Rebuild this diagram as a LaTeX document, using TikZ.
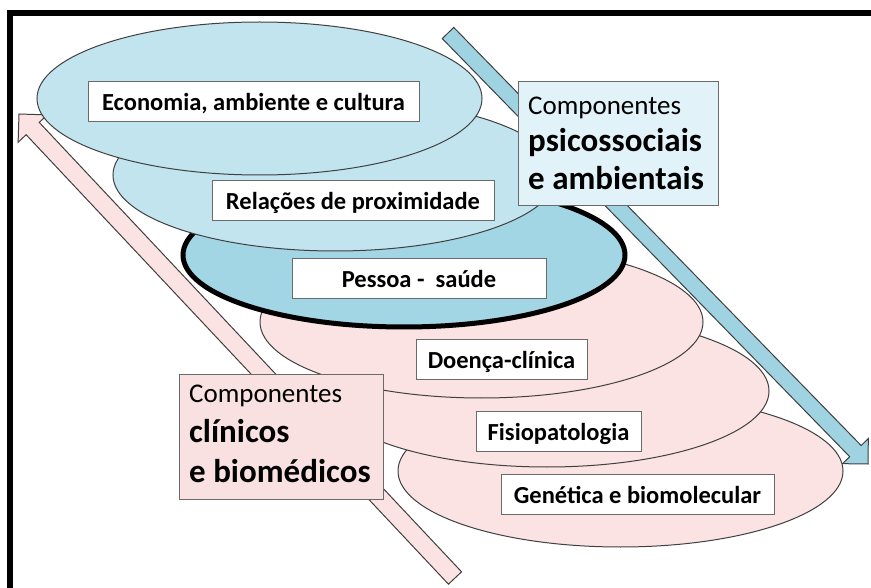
\documentclass[tikz,border=0pt]{standalone}
\usepackage{fontspec}
\setmainfont{Carlito}
\usetikzlibrary{shapes.geometric,calc}
\definecolor{eblue}{HTML}{C2E4EE}
\definecolor{pblue}{HTML}{A3D6E4}
\definecolor{epink}{HTML}{FAE3E2}
\definecolor{ablue}{HTML}{9FD3E2}
\definecolor{bblue}{HTML}{E1F3F8}
\definecolor{bpink}{HTML}{F8E1E0}
\definecolor{edgec}{HTML}{404040}
\definecolor{boxc}{HTML}{6A6A6A}
\tikzset{
  ell/.style={ellipse, draw=edgec, line width=1pt, inner sep=0pt,
    minimum width=444pt, minimum height=152pt},
  lbl/.style={draw=boxc, fill=white, line width=0.8pt,
    font=\fontsize{24.5}{28}\selectfont\bfseries,
    text height=19pt, text depth=0pt, minimum height=40pt, inner sep=0pt},
  compbox/.style={draw=boxc, line width=0.8pt, anchor=north west, inner sep=0pt},
  compreg/.style={anchor=base west, inner sep=0pt, font=\fontsize{27}{30}\selectfont},
  compbold/.style={anchor=base west, inner sep=0pt, font=\fontsize{33}{36}\selectfont\bfseries},
  blockarrow/.style={draw=edgec, line width=1pt, line join=miter}
}
\begin{document}
\begin{tikzpicture}[x=1pt,y=-1pt]
\useasboundingbox (0,0) rectangle (871,588);

% pink arrow (up-left)
\coordinate (pa) at (455,578);
\coordinate (pb) at (19,114);
\coordinate (pn) at ($(pb)!20pt!(pa)$);
\filldraw[blockarrow, fill=epink]
  ($(pa)!9pt!90:(pb)$) -- ($(pn)!9pt!90:(pb)$) -- ($(pn)!20pt!90:(pb)$) -- (pb)
  -- ($(pn)!20pt!-90:(pb)$) -- ($(pn)!9pt!-90:(pb)$) -- ($(pa)!9pt!-90:(pb)$) -- cycle;

% blue arrow (down-right)
\coordinate (ba) at (448,33);
\coordinate (bb) at (868,464);
\coordinate (bn) at ($(bb)!18pt!(ba)$);
\filldraw[blockarrow, fill=ablue]
  ($(ba)!8pt!90:(bb)$) -- ($(bn)!8pt!90:(bb)$) -- ($(bn)!18pt!90:(bb)$) -- (bb)
  -- ($(bn)!18pt!-90:(bb)$) -- ($(bn)!8pt!-90:(bb)$) -- ($(ba)!8pt!-90:(bb)$) -- cycle;

% ellipses, bottom to top
\node[ell, fill=epink, minimum width=445pt] (gen) at (620.5,471) {};
\node[ell, fill=epink] (fis) at (547,391) {};
\node[ell, fill=epink, minimum width=443pt] (doe) at (481.5,322) {};
\node[ellipse, draw=black, line width=5pt, fill=pblue, inner sep=0pt,
      minimum width=442pt, minimum height=144pt] (pes) at (404,255) {};
\node[ell, fill=eblue] (rel) at (335,175) {};
\node[ell, fill=eblue, minimum width=445pt, minimum height=153pt] (eco) at (259.5,98.5) {};

% labels
\node[lbl, minimum width=331pt] (ecoL) at (253.5,101) {Economia, ambiente e cultura};
\node[lbl, minimum width=282pt] (relL) at (353,200) {Relações de proximidade};
\node[lbl, minimum width=254pt] (pesL) at (419,278) {Pessoa -\ \ saúde};
\node[lbl, minimum width=171pt] (doeL) at (501.5,359) {Doença-clínica};
\node[lbl, minimum width=165pt] (fisL) at (558.5,431) {Fisiopatologia};
\node[lbl, minimum width=273pt] (genL) at (637.5,494) {Genética e biomolecular};

% component boxes
\node[compbox, fill=bblue, minimum width=200pt, minimum height=124pt] (psibox) at (518,81) {};
\node[compreg] (psi1) at (528,115) {Componentes};
\node[compbold] (psi2) at (528,152) {psicossociais};
\node[compbold] (psi3) at (528,190) {e ambientais};

\node[compbox, fill=bpink, minimum width=204pt, minimum height=125pt] (clibox) at (179,374) {};
\node[compreg] (cli1) at (189,402) {Componentes};
\node[compbold] (cli2) at (189,442) {clínicos};
\node[compbold] (cli3) at (189,482) {e biomédicos};

% frame
\draw[line width=6pt, line join=miter] (10,600) -- (10,13) -- (885,13);
\end{tikzpicture}
\end{document}
